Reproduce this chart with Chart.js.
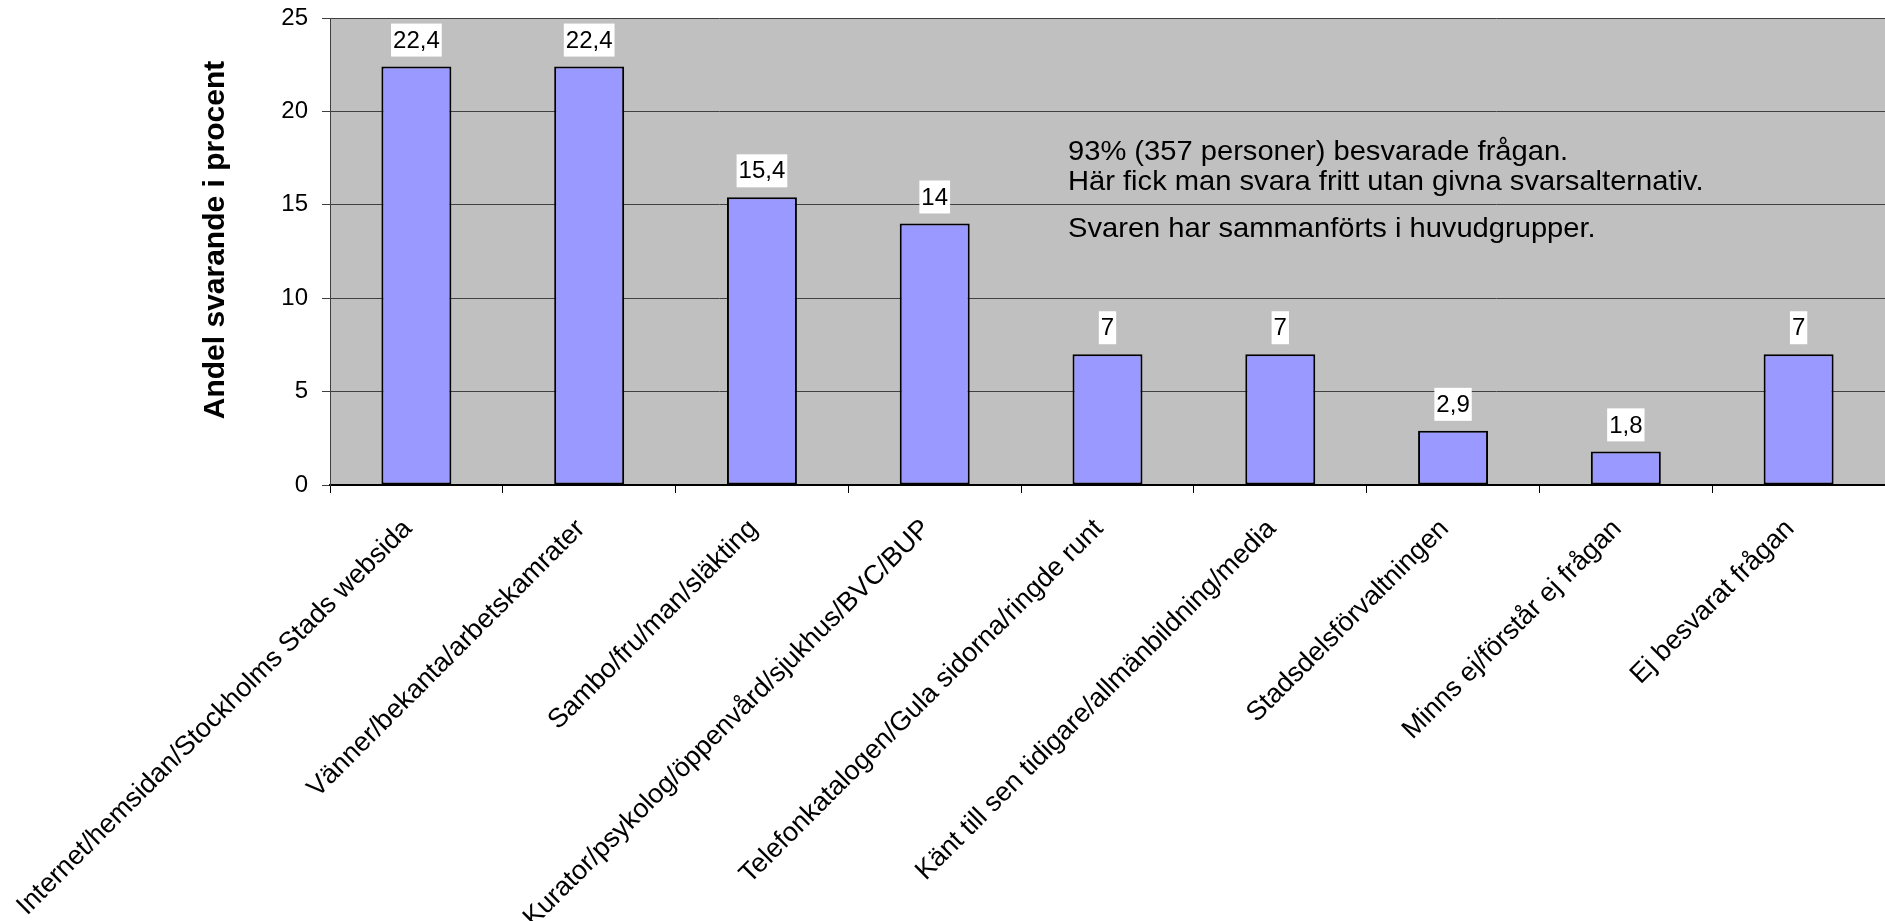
<!DOCTYPE html>
<html>
<head>
<meta charset="utf-8">
<script src="https://cdn.jsdelivr.net/npm/chart.js@4.4.1/dist/chart.umd.min.js"></script>
<style>
  html, body { margin: 0; padding: 0; background: #fff; overflow: hidden; }
  canvas { display: block; }
</style>
</head>
<body>
<canvas id="myChart" width="1885" height="921"></canvas>
<script>
const categories = [
    'Internet/hemsidan/Stockholms Stads websida',
    'Vänner/bekanta/arbetskamrater',
    'Sambo/fru/man/släkting',
    'Kurator/psykolog/öppenvård/sjukhus/BVC/BUP',
    'Telefonkatalogen/Gula sidorna/ringde runt',
    'Känt till sen tidigare/allmänbildning/media',
    'Stadsdelsförvaltningen',
    'Minns ej/förstår ej frågan',
    'Ej besvarat frågan'
];
const andel = [22.4, 22.4, 15.4, 14, 7, 7, 2.9, 1.8, 7];
const yTicks = [0, 5, 10, 15, 20, 25];
const yTitle = 'Andel svarande i procent';
const note = [
    '93% (357 personer) besvarade frågan.',
    'Här fick man svara fritt utan givna svarsalternativ.',
    'Svaren har sammanförts i huvudgrupper.'
];

const FONT = "'Liberation Sans', Arial, sans-serif";

const customDraw = {
    id: 'customDraw',
    beforeDraw(chart) {
        const { ctx, chartArea } = chart;
        ctx.save();
        ctx.fillStyle = '#C0C0C0';
        ctx.fillRect(chartArea.left, chartArea.top, chartArea.right - chartArea.left, chartArea.bottom - chartArea.top);
        ctx.restore();
    },
    afterDraw(chart) {
        const { ctx, chartArea } = chart;
        const xs = chart.scales.x;
        const meta = chart.getDatasetMeta(0);

        // value labels on white boxes
        ctx.save();
        ctx.font = '24px ' + FONT;
        ctx.textAlign = 'center';
        ctx.textBaseline = 'middle';
        meta.data.forEach((bar, i) => {
            const txt = String(andel[i]).replace('.', ',');
            const w = ctx.measureText(txt).width + 4;
            const h = 33;
            const bottom = bar.y - 10;
            ctx.fillStyle = '#fff';
            ctx.fillRect(bar.x - w / 2, bottom - h, w, h);
            ctx.fillStyle = '#000';
            ctx.fillText(txt, bar.x, bottom - h / 2 + 1);
        });
        ctx.restore();

        // rotated category labels, right end just left of the category centre
        ctx.save();
        ctx.font = '27px ' + FONT;
        ctx.fillStyle = '#000';
        ctx.textAlign = 'right';
        ctx.textBaseline = 'top';
        categories.forEach((lab, i) => {
            const cx = xs.getPixelForValue(i);
            ctx.save();
            ctx.translate(cx - 18, chartArea.bottom + 30);
            ctx.rotate(-45 * Math.PI / 180);
            ctx.fillText(lab, 0, 0);
            ctx.restore();
        });
        ctx.restore();

        // y axis title
        ctx.save();
        ctx.font = 'bold 30px ' + FONT;
        ctx.fillStyle = '#000';
        ctx.textAlign = 'center';
        ctx.textBaseline = 'middle';
        ctx.translate(216, 240);
        ctx.rotate(-Math.PI / 2);
        ctx.fillText(yTitle, 0, 0);
        ctx.restore();

        // note text
        ctx.save();
        ctx.font = '28px ' + FONT;
        ctx.fillStyle = '#000';
        ctx.textAlign = 'left';
        ctx.textBaseline = 'alphabetic';
        const noteY = [160, 190, 237];
        note.forEach((line, i) => {
            ctx.save();
            ctx.translate(1068, noteY[i]);
            ctx.scale(1.04, 1);
            ctx.fillText(line, 0, 0);
            ctx.restore();
        });
        ctx.restore();
    }
};

const chartCanvas = document.querySelector('#myChart');

new Chart(chartCanvas, {
    type: 'bar',
    data: {
        labels: categories,
        datasets: [{
            label: yTitle,
            data: andel,
            backgroundColor: '#9999FF',
            borderColor: '#000000',
            borderWidth: 2,
            borderSkipped: false,
            categoryPercentage: 1,
            barPercentage: 0.405
        }]
    },
    options: {
        responsive: false,
        animation: false,
        layout: { padding: 0 },
        plugins: {
            legend: { display: false },
            tooltip: { enabled: false }
        },
        scales: {
            x: {
                offset: true,
                grid: { offset: true, drawOnChartArea: false, tickLength: 8, color: '#000', lineWidth: 1 },
                border: { color: '#000', width: 2 },
                ticks: { display: false },
                afterFit(scale) { scale.height = 436; }
            },
            y: {
                min: 0,
                max: 25,
                afterBuildTicks(scale) { scale.ticks = yTicks.map(v => ({ value: v })); },
                grid: { color: '#404040', lineWidth: 1, tickLength: 8 },
                border: { color: '#404040', width: 1 },
                ticks: {
                    color: '#000',
                    padding: 14,
                    font: { family: FONT, size: 24 }
                },
                afterFit(scale) {
                    scale.width = 330;
                    scale.paddingTop = 18;
                    scale.paddingBottom = 0;
                }
            }
        }
    },
    plugins: [customDraw]
});
</script>
</body>
</html>
